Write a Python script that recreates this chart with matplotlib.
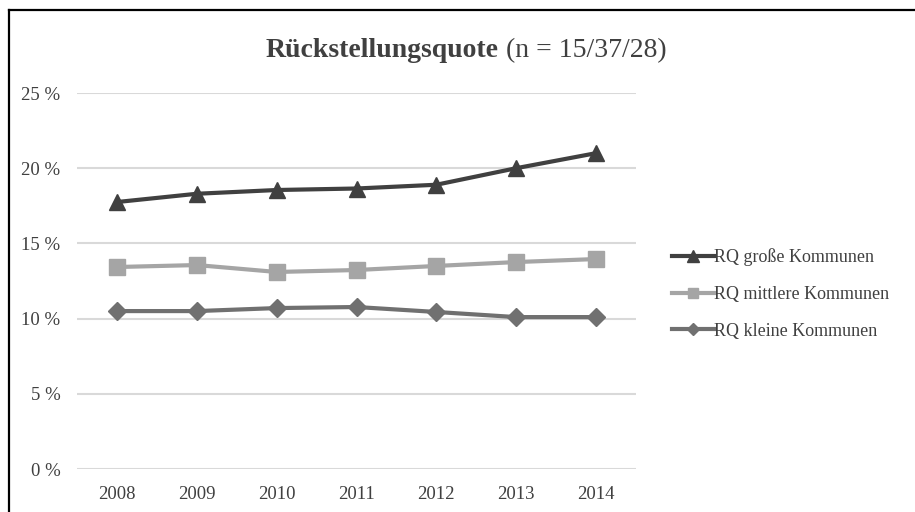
import matplotlib
matplotlib.use('Agg')
import matplotlib.pyplot as plt
from matplotlib.lines import Line2D
from matplotlib.ticker import FuncFormatter

years = ['2008', '2009', '2010', '2011', '2012', '2013', '2014']
rq_gross = [17.75, 18.3, 18.55, 18.65, 18.9, 20.0, 21.0]
rq_mittel = [13.43, 13.56, 13.1, 13.23, 13.5, 13.76, 13.96]
rq_klein = [10.5, 10.5, 10.7, 10.77, 10.44, 10.1, 10.1]

labels = ['RQ große Kommunen', 'RQ mittlere Kommunen', 'RQ kleine Kommunen']

plt.rcParams['font.family'] = ['Liberation Serif', 'DejaVu Serif']

fig = plt.figure(figsize=(9.15, 5.12), dpi=100)
ax = fig.add_axes([77 / 915, 1 - 469 / 512, (636 - 77) / 915, (469 - 93) / 512])

x = list(range(len(years)))
ax.plot(x, rq_gross, color='#404040', lw=3, marker='^', ms=12, label=labels[0], zorder=5)
ax.plot(x, rq_mittel, color='#a5a5a5', lw=3, marker='s', ms=11, label=labels[1], zorder=4)
ax.plot(x, rq_klein, color='#707070', lw=3, marker='D', ms=9, label=labels[2], zorder=3)

ax.set_xlim(-0.5, len(years) - 0.5)
ax.set_ylim(0, 25)
ax.set_yticks([0, 5, 10, 15, 20, 25])
ax.yaxis.set_major_formatter(FuncFormatter(lambda v, p: f'{v:.0f} %'))
ax.set_xticks(x)
ax.set_xticklabels(years)
ax.tick_params(length=0, labelsize=13.5, colors='#404040')
ax.tick_params(axis='y', pad=12)
ax.tick_params(axis='x', pad=12)
ax.grid(axis='y', color='#d9d9d9', lw=1.5)
ax.set_axisbelow(True)
for s in ax.spines.values():
    s.set_visible(False)

leg = fig.legend(loc='center left', bbox_to_anchor=(672 / 915, 1 - 294 / 512), frameon=False,
                 fontsize=13, handlelength=2.3, handletextpad=0.0, labelspacing=1.1,
                 borderpad=0, borderaxespad=0, markerscale=0.7)
for t in leg.get_texts():
    t.set_color('#404040')

# title: bold part + normal part
t1 = fig.text(266 / 915, 1 - 57 / 512, 'Rückstellungsquote', fontsize=20, fontweight='bold',
              color='#404040', ha='left', va='baseline')
fig.canvas.draw()
bb = t1.get_window_extent(fig.canvas.get_renderer())
fig.text(bb.x1 / fig.bbox.width, 1 - 57 / 512, ' (n = 15/37/28)', fontsize=20,
         color='#404040', ha='left', va='baseline')

# frame lines of the original picture
fig.add_artist(Line2D([8.5 / 915, 8.5 / 915], [0, 1 - 9.5 / 512], color='black', lw=1.6))
fig.add_artist(Line2D([8.5 / 915, 1], [1 - 9.5 / 512, 1 - 9.5 / 512], color='black', lw=1.6))

fig.savefig('out.png', dpi=100)
